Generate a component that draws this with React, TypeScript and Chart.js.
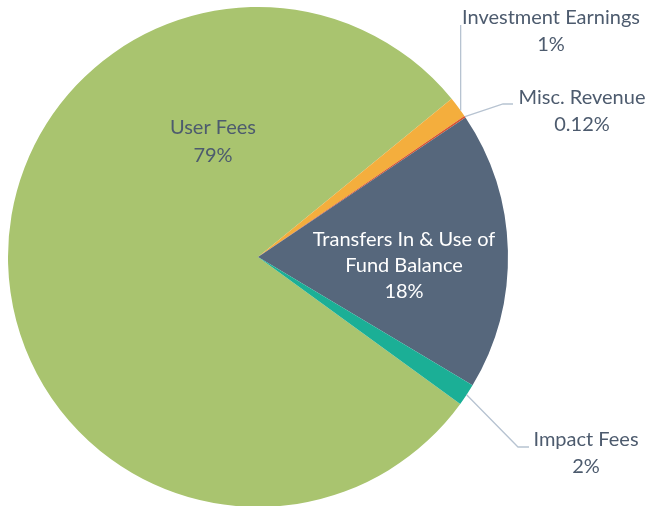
import React, { useEffect, useRef } from "react";
import { Chart, registerables } from "chart.js";

Chart.register(...registerables);

const categories = ["User Fees", "Investment Earnings", "Misc. Revenue", "Transfers In & Use of Fund Balance", "Impact Fees"];
const shares = [79.1, 1.36, 0.12, 18.0, 1.42];
const percentLabels = ["79%", "1%", "0.12%", "18%", "2%"];
const sliceColors = ["#A9C46F", "#F4AE3D", "#D9532E", "#56677C", "#1BAF96"];

const TEXT = "#4D5B6E";
const LINE = "#B7C3D1";
const FONT = "20px Lato, 'Open Sans', sans-serif";

const labelPlugin = {
  id: "customLabels",
  afterDraw(chart: any) {
    const ctx = chart.ctx;
    const meta = chart.getDatasetMeta(0);
    const arc = meta.data[0];
    const cx = arc.x, cy = arc.y, r = arc.outerRadius;
    const pt = (deg: number, rr: number) => {
      const a = (deg - 90) * Math.PI / 180;
      return [cx + Math.cos(a) * rr, cy + Math.sin(a) * rr];
    };
    const midAngle = (i: number) => {
      const el = meta.data[i];
      return ((el.startAngle + el.endAngle) / 2) * 180 / Math.PI + 90;
    };
    ctx.save();
    ctx.font = FONT;
    ctx.textAlign = "center";
    ctx.textBaseline = "middle";
    const lines = (arr: string[], x: number, y: number, color: string, gap = 27) => {
      ctx.fillStyle = color;
      arr.forEach((t, k) => ctx.fillText(t, x, y + k * gap));
    };
    // inside labels
    lines([categories[0], percentLabels[0]], 213, 128, TEXT, 28);
    lines(["Transfers In & Use of", "Fund Balance", percentLabels[3]], 404, 240, "#FFFFFF", 26);
    // leader lines
    ctx.strokeStyle = LINE;
    ctx.lineWidth = 1.3;
    // Investment Earnings
    const e1 = meta.data[1].endAngle * 180 / Math.PI + 90 - 1.5;
    const p1 = pt(e1, r);
    ctx.beginPath();
    ctx.moveTo(p1[0], p1[1]);
    ctx.lineTo(p1[0], 25);
    ctx.stroke();
    lines([categories[1], percentLabels[1]], 551, 18, TEXT, 27);
    // Misc revenue
    const p2 = pt(midAngle(2), r);
    ctx.beginPath();
    ctx.moveTo(p2[0], p2[1]);
    ctx.lineTo(503, 104);
    ctx.lineTo(513, 104);
    ctx.stroke();
    lines([categories[2], percentLabels[2]], 582, 98, TEXT, 27);
    // Impact Fees
    const p4 = pt(midAngle(4), r);
    ctx.beginPath();
    ctx.moveTo(p4[0], p4[1]);
    ctx.lineTo(518, 447);
    ctx.lineTo(529, 447);
    ctx.stroke();
    lines([categories[4], percentLabels[4]], 586, 440, TEXT, 27);
    ctx.restore();
  },
};

export default function App() {
  const ref = useRef<HTMLCanvasElement>(null);
  useEffect(() => {
    document.documentElement.style.overflow = "hidden";
    document.body.style.overflow = "hidden";
    const chart = new Chart(ref.current!, {
      type: "pie",
      data: {
        labels: categories,
        datasets: [
          {
            data: shares,
            backgroundColor: sliceColors,
            borderWidth: 0,
          },
        ],
      },
      options: {
        responsive: false,
        animation: false,
        rotation: 126,
        layout: { padding: { left: 8, top: 7, right: 139, bottom: 13 } },
        plugins: { legend: { display: false }, tooltip: { enabled: false } },
      },
      plugins: [labelPlugin],
    });
    return () => chart.destroy();
  }, []);
  return (
    <div style={{ position: "fixed", left: 0, top: 0, width: 647, height: 520, background: "#fff" }}>
      <canvas ref={ref} width={647} height={520} style={{ display: "block" }} />
    </div>
  );
}
